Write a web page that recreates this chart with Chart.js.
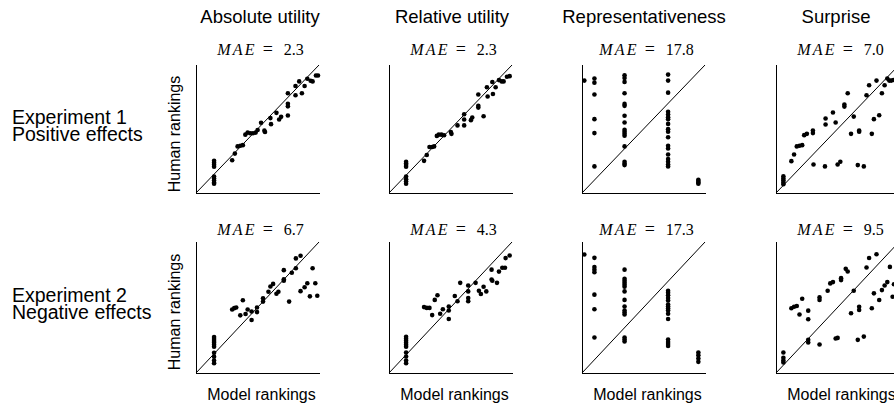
<!DOCTYPE html>
<html>
<head>
<meta charset="utf-8">
<script src="https://cdn.jsdelivr.net/npm/chart.js@4.4.1/dist/chart.umd.min.js"></script>
<style>
  html, body { margin: 0; padding: 0; background: #fff; }
  body { position: relative; width: 894px; height: 406px; overflow: hidden; }
  .txt { position: absolute; white-space: nowrap; line-height: 1; color: #000; }
  .sans { font-family: "Liberation Sans", Arial, Helvetica, sans-serif; }
  .title { font-size: 18.5px; transform: translateX(-50%); }
  .rowlab { font-size: 19.5px; }
  .mae { font-family: "Liberation Serif", "DejaVu Serif", serif; font-size: 16px; transform: translateX(-50%); }
  .mae i { letter-spacing: 2.2px; }
  .mae .eq { font-size: 18px; margin: 0 11px 0 6px; }
  .ylab { font-size: 16px; transform: translate(-50%, -50%) rotate(-90deg); }
  .xlab { font-size: 16px; transform: translateX(-50%); }
  canvas { position: absolute; }
</style>
</head>
<body>
<script>
// column and row labels
const columnTitles = ["Absolute utility", "Relative utility", "Representativeness", "Surprise"];
const rowLabels = [["Experiment 1", "Positive effects"], ["Experiment 2", "Negative effects"]];
const maeValues = [[2.3, 2.3, 17.8, 7.0], [6.7, 4.3, 17.3, 9.5]];

// Experiment 1 - positive effects (model ranking x, human ranking y, 0-100 scale)
const exp1AbsoluteX = [14.7, 14.7, 14.7, 14.7, 14.7, 14.7, 14.7, 14.7, 14.7, 29.4, 31.6, 33.8, 36.0, 38.1, 40.1, 42.0, 44.1, 46.3, 48.5, 50.1, 52.9, 55.6, 56.1, 60.5, 61.0, 65.4, 67.6, 69.2, 74.7, 74.7, 74.7, 74.7, 80.9, 80.9, 83.9, 86.1, 88.3, 90.5, 93.2, 94.8, 97.5, 99.2];
const exp1AbsoluteY = [25.1, 23.6, 22.1, 20.5, 12.8, 11.3, 9.7, 8.2, 7.2, 25.6, 30.8, 36.4, 36.9, 37.4, 45.6, 47.2, 46.7, 46.7, 47.2, 49.2, 54.9, 48.7, 47.7, 58.5, 53.8, 62.6, 57.4, 59.5, 60.5, 69.7, 67.7, 77.9, 83.6, 76.4, 87.2, 77.9, 83.6, 89.2, 87.7, 87.2, 91.8, 91.8];

const exp1RelativeX = [13.9, 13.9, 13.9, 13.9, 13.9, 13.9, 13.9, 13.9, 28.5, 30.7, 32.9, 35.1, 36.7, 38.9, 40.5, 42.7, 44.8, 50.3, 50.8, 55.7, 61.1, 61.1, 61.1, 66.6, 67.7, 72.6, 72.6, 72.6, 76.9, 79.6, 80.2, 84.0, 84.5, 86.7, 89.4, 91.6, 93.2, 95.9, 98.1];
const exp1RelativeY = [24.4, 23.1, 21.8, 20.5, 12.8, 10.8, 9.0, 7.2, 25.1, 29.7, 35.9, 35.9, 36.4, 44.6, 45.6, 45.6, 45.1, 47.7, 46.2, 52.8, 61.5, 57.4, 52.8, 56.9, 59.0, 76.9, 68.2, 66.7, 60.0, 82.6, 75.4, 86.7, 77.4, 82.6, 88.2, 87.2, 87.2, 90.8, 91.3];

const exp1RepresentX = [1.9, 10.1, 10.1, 10.1, 10.1, 10.1, 10.1, 34.6, 34.6, 34.6, 34.6, 34.6, 34.6, 34.6, 34.6, 34.6, 34.6, 34.6, 34.6, 34.6, 34.6, 34.6, 34.6, 70.0, 70.0, 70.0, 70.0, 70.0, 70.0, 70.0, 70.0, 70.0, 70.0, 70.0, 70.0, 70.0, 70.0, 70.0, 70.0, 70.0, 70.0, 94.6, 94.6, 94.6, 94.6];
const exp1RepresentY = [87.8, 89.4, 86.2, 76.9, 57.7, 46.8, 20.8, 91.9, 89.9, 86.8, 77.9, 69.6, 68.1, 60.3, 55.1, 49.4, 47.8, 46.2, 44.7, 36.4, 24.4, 22.9, 21.8, 92.5, 87.8, 78.4, 63.4, 61.3, 59.2, 57.7, 54.0, 49.9, 47.8, 43.6, 36.9, 34.8, 30.1, 26.5, 24.4, 22.3, 20.8, 10.4, 9.4, 8.3, 7.3];

const exp1SurpriseX = [6.0, 6.0, 6.0, 6.0, 6.0, 12.5, 14.7, 16.9, 19.1, 21.3, 22.9, 25.1, 30.0, 30.0, 30.5, 39.8, 40.3, 40.3, 46.3, 48.5, 50.1, 52.3, 55.6, 55.6, 58.3, 61.0, 63.2, 66.5, 67.6, 67.6, 71.4, 73.6, 75.7, 77.9, 79.6, 81.7, 83.9, 86.1, 88.3, 90.5, 92.1, 93.7, 95.4];
const exp1SurpriseY = [13.0, 11.4, 9.9, 8.3, 6.8, 24.9, 30.1, 36.4, 36.9, 37.4, 45.2, 46.2, 48.8, 46.8, 22.3, 20.8, 58.2, 53.5, 62.9, 55.1, 22.3, 24.4, 69.1, 67.5, 77.9, 46.2, 59.7, 21.8, 48.8, 47.8, 20.8, 76.4, 84.2, 46.2, 57.7, 87.8, 60.8, 77.9, 84.2, 89.4, 87.8, 87.8, 88.3];

// Experiment 2 - negative effects
const exp2AbsoluteX = [14.7, 14.7, 14.7, 14.7, 14.7, 14.7, 14.7, 14.7, 14.7, 14.7, 29.4, 31.1, 32.7, 36.0, 38.1, 40.3, 42.0, 45.2, 45.2, 49.6, 49.6, 54.5, 54.5, 58.9, 60.5, 62.7, 65.4, 67.0, 71.4, 71.4, 71.4, 75.7, 77.9, 81.2, 81.2, 85.0, 85.0, 88.3, 90.5, 92.6, 94.8, 97.0, 98.6];
const exp2AbsoluteY = [27.5, 26.0, 24.5, 23.0, 21.5, 20.0, 15.5, 12.5, 9.5, 7.5, 48.5, 49.5, 50.0, 44.0, 55.5, 45.0, 48.5, 47.0, 40.5, 46.5, 50.0, 54.5, 57.0, 62.0, 66.0, 68.0, 60.5, 62.0, 78.5, 70.5, 71.5, 54.5, 76.5, 80.0, 87.5, 89.5, 62.5, 65.5, 68.5, 58.5, 80.0, 68.5, 59.0];

const exp2RelativeX = [13.9, 13.9, 13.9, 13.9, 13.9, 13.9, 13.9, 13.9, 13.9, 13.9, 28.5, 30.7, 32.9, 35.1, 37.2, 39.4, 41.6, 43.8, 48.6, 48.6, 48.6, 53.5, 55.7, 57.9, 64.4, 64.4, 64.4, 64.4, 70.4, 73.1, 74.7, 76.9, 79.1, 83.4, 83.4, 84.0, 87.8, 89.4, 92.1, 94.3, 94.8, 98.1];
const exp2RelativeY = [27.6, 26.1, 24.6, 23.1, 21.6, 20.1, 15.6, 12.6, 9.5, 7.5, 50.3, 49.7, 49.7, 44.2, 55.8, 59.3, 45.2, 48.7, 47.7, 50.8, 41.2, 58.8, 54.8, 68.8, 66.8, 62.3, 57.3, 54.8, 68.8, 62.8, 60.3, 65.8, 62.3, 78.9, 71.4, 70.4, 68.8, 77.4, 80.4, 80.4, 87.7, 89.7];

const exp2RepresentX = [1.9, 10.1, 10.1, 10.1, 10.1, 10.1, 10.1, 10.1, 34.6, 34.6, 34.6, 34.6, 34.6, 34.6, 34.6, 34.6, 34.6, 34.6, 34.6, 34.6, 34.6, 34.6, 34.6, 70.0, 70.0, 70.0, 70.0, 70.0, 70.0, 70.0, 70.0, 70.0, 70.0, 70.0, 70.0, 70.0, 70.0, 70.0, 94.6, 94.6, 94.6, 94.6];
const exp2RepresentY = [90.5, 87.9, 80.9, 78.9, 76.9, 59.8, 48.7, 27.1, 78.9, 71.9, 70.4, 68.8, 67.3, 65.8, 62.3, 55.8, 50.8, 47.7, 46.2, 44.7, 27.1, 25.6, 24.1, 62.8, 61.3, 59.3, 57.3, 55.3, 52.3, 50.8, 49.2, 47.7, 45.2, 41.2, 25.6, 23.6, 22.1, 20.6, 15.6, 13.6, 11.1, 8.5];

const exp2SurpriseX = [6.0, 6.0, 6.0, 6.0, 12.5, 14.7, 16.9, 19.1, 21.3, 26.2, 26.2, 26.2, 26.2, 35.4, 35.4, 35.4, 42.0, 44.1, 46.3, 48.5, 50.1, 52.9, 52.9, 56.7, 58.3, 61.0, 63.2, 66.5, 67.6, 67.6, 71.4, 73.6, 75.7, 77.9, 79.6, 81.7, 83.9, 86.1, 88.3, 90.5, 92.6, 94.8, 95.9];
const exp2SurpriseY = [15.7, 11.6, 9.6, 8.1, 49.4, 50.6, 51.1, 44.6, 56.7, 47.6, 41.0, 25.3, 23.3, 21.8, 55.7, 57.7, 62.8, 68.4, 69.4, 26.3, 26.8, 70.9, 72.4, 79.5, 77.5, 45.6, 62.8, 25.3, 50.6, 48.1, 27.8, 80.5, 87.8, 49.4, 60.8, 90.6, 55.7, 63.3, 66.8, 69.4, 81.0, 58.2, 67.8];

const panelData = [
  [[exp1AbsoluteX, exp1AbsoluteY], [exp1RelativeX, exp1RelativeY], [exp1RepresentX, exp1RepresentY], [exp1SurpriseX, exp1SurpriseY]],
  [[exp2AbsoluteX, exp2AbsoluteY], [exp2RelativeX, exp2RelativeY], [exp2RepresentX, exp2RepresentY], [exp2SurpriseX, exp2SurpriseY]]
];

// layout of the grid (pixels)
const colLeft = [196, 389, 582, 776];
const plotWidth = 123;
const rowTop = [65, 242];
const rowHeight = [128, 131];
const PAD = 6;

function addText(cls, text, left, top, html) {
  const el = document.createElement("div");
  el.className = "txt " + cls;
  if (html) el.innerHTML = text; else el.textContent = text;
  el.style.left = left + "px";
  el.style.top = top + "px";
  document.body.appendChild(el);
  return el;
}

function drawPanel(row, col) {
  const [xs, ys] = panelData[row][col];
  const canvas = document.createElement("canvas");
  canvas.width = plotWidth + 2 * PAD;
  canvas.height = rowHeight[row] + 2 * PAD;
  canvas.style.left = (colLeft[col] - PAD) + "px";
  canvas.style.top = (rowTop[row] - PAD) + "px";
  document.body.appendChild(canvas);

  const axis = {
    type: "linear",
    min: 0,
    max: 100,
    grid: { display: false, drawTicks: false },
    ticks: { display: false },
    border: { display: true, color: "#000", width: 1 },
  };

  new Chart(canvas, {
    type: "scatter",
    data: {
      datasets: [
        {
          data: xs.map((x, i) => ({ x: x, y: ys[i] })),
          pointRadius: 2.3,
          pointBackgroundColor: "#000",
          pointBorderWidth: 0,
          clip: false,
        },
        {
          data: [{ x: 0, y: 0 }, { x: 100, y: 100 }],
          showLine: true,
          borderColor: "#000",
          borderWidth: 1,
          pointRadius: 0,
          clip: false,
        },
      ],
    },
    options: {
      responsive: false,
      animation: false,
      events: [],
      layout: { padding: PAD, autoPadding: false },
      plugins: { legend: { display: false }, tooltip: { enabled: false } },
      scales: { x: axis, y: axis },
    },
  });
}

// titles
const titleCenters = [260, 452, 644, 836];
columnTitles.forEach((t, c) => addText("sans title", t, titleCenters[c], 8));

// row labels
const rowLabelTops = [[107.5, 125], [285.5, 302.5]];
rowLabels.forEach((lines, r) => {
  lines.forEach((line, i) => addText("sans rowlab", line, 12, rowLabelTops[r][i]));
});

// MAE labels
const maeTops = [40, 220];
maeValues.forEach((vals, r) => {
  vals.forEach((v, c) => {
    const cx = colLeft[c] + plotWidth / 2 + 3;
    addText("mae", '<i>MAE</i><span class="eq">=</span>' + v.toFixed(1), cx, maeTops[r], true);
  });
});

// axis labels
const yLabelCenters = [134, 312];
yLabelCenters.forEach((cy) => addText("sans ylab", "Human rankings", 175, cy));
colLeft.forEach((x) => addText("sans xlab", "Model rankings", x + plotWidth / 2 + 4, 387));

for (let r = 0; r < 2; r++) {
  for (let c = 0; c < 4; c++) drawPanel(r, c);
}
</script>
</body>
</html>
